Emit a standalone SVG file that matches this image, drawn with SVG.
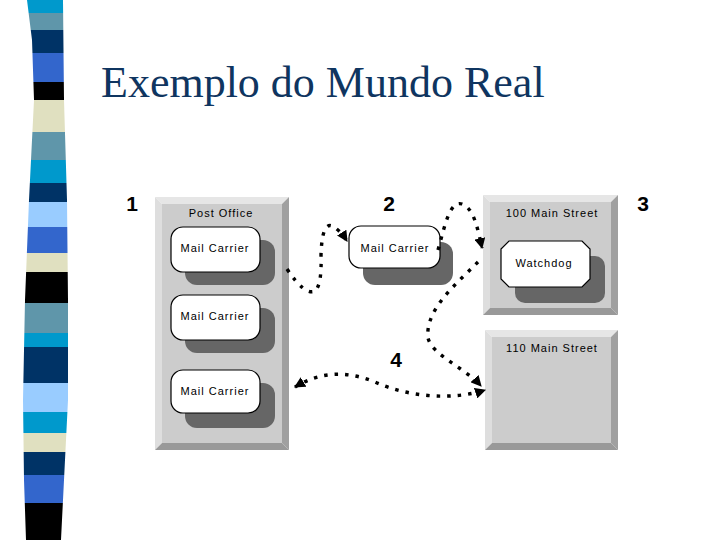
<svg xmlns="http://www.w3.org/2000/svg" width="720" height="540" viewBox="0 0 720 540">
<style>
.lbl{font-family:"Liberation Sans",Arial,sans-serif;font-size:11px;letter-spacing:1px;fill:#000;text-anchor:middle}
.num{font-family:"Liberation Sans",Arial,sans-serif;font-size:21px;font-weight:bold;fill:#000;text-anchor:middle}
.face{fill:#cccccc}
.lt{fill:#e6e6e6}
.lt2{fill:#dedede}
.dk{fill:#a0a0a0}
.dk2{fill:#999999}
.box{fill:#ffffff;stroke:#000;stroke-width:1.2}
.shadow{fill:#666666}
.conn{fill:none;stroke:#000;stroke-width:3.4;stroke-dasharray:3.5 7}
</style>
<defs>
<clipPath id="bar">
<path d="M27 0 L63 0 L64 100 L67 200 L68 300 L68 400 L64 480 L61 540 L26 540 L24 480 L23 400 L25 300 L29 200 L34 100 L32 40 Z"/>
</clipPath>
<marker id="ah" viewBox="0 0 10 10" refX="9" refY="5" markerWidth="11" markerHeight="11" markerUnits="userSpaceOnUse" orient="auto-start-reverse">
<path d="M0 0 L10 5 L0 10 Z" fill="#000"/>
</marker>
</defs>
<rect width="720" height="540" fill="#ffffff"/>
<g id="stripes" clip-path="url(#bar)">
<rect x="0" y="0" width="80" height="13" fill="#0099cc"/>
<rect x="0" y="13" width="80" height="17" fill="#5f96aa"/>
<rect x="0" y="30" width="80" height="23" fill="#003366"/>
<rect x="0" y="53" width="80" height="29" fill="#3366cc"/>
<rect x="0" y="82" width="80" height="18" fill="#000000"/>
<rect x="0" y="100" width="80" height="32" fill="#e0e0c0"/>
<rect x="0" y="132" width="80" height="28" fill="#5f96aa"/>
<rect x="0" y="160" width="80" height="23" fill="#0099cc"/>
<rect x="0" y="183" width="80" height="19" fill="#003366"/>
<rect x="0" y="202" width="80" height="25" fill="#99ccff"/>
<rect x="0" y="227" width="80" height="26" fill="#3366cc"/>
<rect x="0" y="253" width="80" height="19" fill="#e0e0c0"/>
<rect x="0" y="272" width="80" height="31" fill="#000000"/>
<rect x="0" y="303" width="80" height="30" fill="#5f96aa"/>
<rect x="0" y="333" width="80" height="14" fill="#0099cc"/>
<rect x="0" y="347" width="80" height="36" fill="#003366"/>
<rect x="0" y="383" width="80" height="29" fill="#99ccff"/>
<rect x="0" y="412" width="80" height="21" fill="#0099cc"/>
<rect x="0" y="433" width="80" height="19" fill="#e0e0c0"/>
<rect x="0" y="452" width="80" height="23" fill="#003366"/>
<rect x="0" y="475" width="80" height="28" fill="#3366cc"/>
<rect x="0" y="503" width="80" height="37" fill="#000000"/>
</g>
<text x="101" y="97" font-family="'Liberation Serif','Times New Roman',serif" font-size="44" fill="#0f3560">Exemplo do Mundo Real</text>
<g id="numbers">
<text class="num" x="132" y="211">1</text>
<text class="num" x="389" y="211">2</text>
<text class="num" x="643" y="211">3</text>
<text class="num" x="396" y="367">4</text>
</g>
<g id="post-office">
<polygon class="lt" points="155,197 289,197 282,204 162,204"/>
<polygon class="lt2" points="155,197 162,204 162,443 155,450"/>
<polygon class="dk" points="289,197 289,450 282,443 282,204"/>
<polygon class="dk2" points="155,450 289,450 282,443 162,443"/>
<rect class="face" x="162" y="204" width="120" height="239"/>
<text class="lbl" x="221" y="217">Post Office</text>
</g>
<g id="carrier1">
<rect class="shadow" x="185" y="240" width="90" height="45" rx="12"/>
<rect class="box" x="171" y="227" width="89" height="45" rx="12"/>
<text class="lbl" x="215" y="252">Mail Carrier</text>
</g>
<g id="carrier2">
<rect class="shadow" x="185" y="308" width="90" height="45" rx="12"/>
<rect class="box" x="171" y="295" width="89" height="45" rx="12"/>
<text class="lbl" x="215" y="320">Mail Carrier</text>
</g>
<g id="carrier3">
<rect class="shadow" x="185" y="383" width="90" height="45" rx="12"/>
<rect class="box" x="171" y="370" width="89" height="43" rx="12"/>
<text class="lbl" x="215" y="395">Mail Carrier</text>
</g>
<g id="carrier-moving">
<rect class="shadow" x="363" y="242" width="90" height="43" rx="12"/>
<rect class="box" x="349" y="226" width="91" height="42" rx="12"/>
<text class="lbl" x="395" y="252">Mail Carrier</text>
</g>
<g id="street100">
<polygon class="lt" points="483,195 618,195 611,202 490,202"/>
<polygon class="lt2" points="483,195 490,202 490,308 483,315"/>
<polygon class="dk" points="618,195 618,315 611,308 611,202"/>
<polygon class="dk2" points="483,315 618,315 611,308 490,308"/>
<rect class="face" x="490" y="202" width="121" height="106"/>
<text class="lbl" x="552" y="217">100 Main Street</text>
</g>
<g id="watchdog">
<rect class="shadow" x="515" y="256" width="90" height="47" rx="10"/>
<path class="box" d="M509 241 L582 241 L590 249 L590 279 L582 287 L509 287 L501 279 L501 249 Z"/>
<text class="lbl" x="544" y="267">Watchdog</text>
</g>
<g id="street110">
<polygon class="lt" points="485,330 618,330 611,337 492,337"/>
<polygon class="lt2" points="485,330 492,337 492,443 485,450"/>
<polygon class="dk" points="618,330 618,450 611,443 611,337"/>
<polygon class="dk2" points="485,450 618,450 611,443 492,443"/>
<rect class="face" x="492" y="337" width="119" height="106"/>
<text class="lbl" x="552" y="352">110 Main Street</text>
</g>
<g id="connectors">
<path class="conn" d="M287 269 Q305 296 315 291 Q322 285 321 255 Q322 222 332 226 Q340 230 347 241" marker-end="url(#ah)"/>
<path class="conn" d="M438 250 C445 225 450 200 462 204 C474 208 478 230 482 248" marker-end="url(#ah)"/>
<path class="conn" d="M478 262 C455 285 425 310 428 338 C432 355 465 368 481 386" marker-end="url(#ah)"/>
<path class="conn" d="M295 387 C320 372 345 370 375 382 C410 398 455 400 485 390" marker-start="url(#ah)" marker-end="url(#ah)"/>
</g>
</svg>
